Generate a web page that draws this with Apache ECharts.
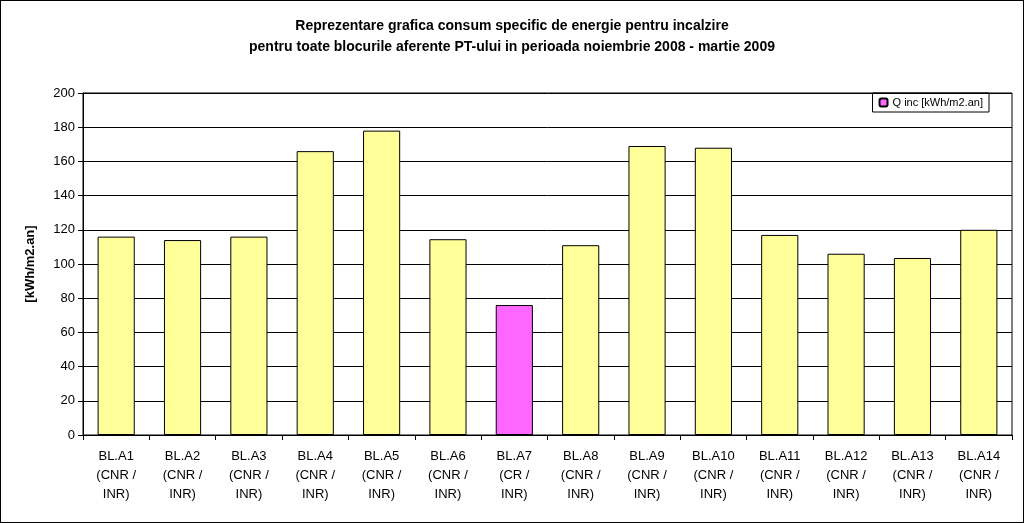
<!DOCTYPE html>
<html><head><meta charset="utf-8">
<script src="https://cdn.jsdelivr.net/npm/echarts@6/dist/echarts.min.js"></script>
<style>html,body{margin:0;padding:0;background:#fff}#c{width:1024px;height:523px;box-sizing:border-box;border:1px solid #000}</style>
</head><body><div id="c"></div>
<script>
var categories = ['BL.A1\n(CNR /\nINR)','BL.A2\n(CNR /\nINR)','BL.A3\n(CNR /\nINR)','BL.A4\n(CNR /\nINR)','BL.A5\n(CNR /\nINR)','BL.A6\n(CNR /\nINR)','BL.A7\n(CR /\nINR)','BL.A8\n(CNR /\nINR)','BL.A9\n(CNR /\nINR)','BL.A10\n(CNR /\nINR)','BL.A11\n(CNR /\nINR)','BL.A12\n(CNR /\nINR)','BL.A13\n(CNR /\nINR)','BL.A14\n(CNR /\nINR)'];
var values = [116, 114, 116, 166, 178, 114.5, 76, 111, 169, 168, 117, 106, 103.5, 120];
var highlight = 6;

var chart = echarts.init(document.getElementById('c'));
chart.setOption({
  animation: false,
  textStyle: {fontFamily: 'Liberation Sans, Arial, sans-serif'},
  title: {
    text: 'Reprezentare grafica consum specific de energie pentru incalzire\npentru toate blocurile aferente PT-ului in perioada noiembrie 2008 - martie 2009',
    left: 'center', top: 10,
    textStyle: {fontSize: 14, fontWeight: 'bold', color: '#000', lineHeight: 21}
  },
  legend: {
    data: ['Q inc [kWh/m2.an]'], right: 34, top: 92, itemWidth: 8, itemHeight: 8,
    borderColor: '#000', borderWidth: 1, padding: [4, 6], borderRadius: 0,
    textStyle: {fontSize: 11, color: '#000'}
  },
  grid: {left: 82, right: 11, top: 92, bottom: 87, show: true, borderColor: '#000', borderWidth: 1, backgroundColor: '#fff'},
  xAxis: {
    type: 'category', data: categories,
    axisLine: {lineStyle: {color: '#000'}},
    axisTick: {show: true, length: 5, lineStyle: {color: '#000'}},
    axisLabel: {color: '#000', fontSize: 13, lineHeight: 19, margin: 12}
  },
  yAxis: {
    type: 'value', min: 0, max: 200, interval: 20,
    name: '[kWh/m2.an]', nameLocation: 'middle', nameGap: 46,
    nameTextStyle: {fontWeight: 'bold', fontSize: 13, color: '#000'},
    axisLine: {show: true, lineStyle: {color: '#000'}},
    axisTick: {show: true, length: 5, lineStyle: {color: '#000'}},
    axisLabel: {color: '#000', fontSize: 13},
    splitLine: {lineStyle: {color: '#000'}}
  },
  series: [{
    name: 'Q inc [kWh/m2.an]', type: 'bar', barWidth: '56%',
    itemStyle: {color: '#FF66FF', borderColor: '#000', borderWidth: 1},
    data: values.map(function (v, i) {
      return i === highlight ? v : {value: v, itemStyle: {color: '#FFFF99'}};
    })
  }]
});
</script></body></html>
